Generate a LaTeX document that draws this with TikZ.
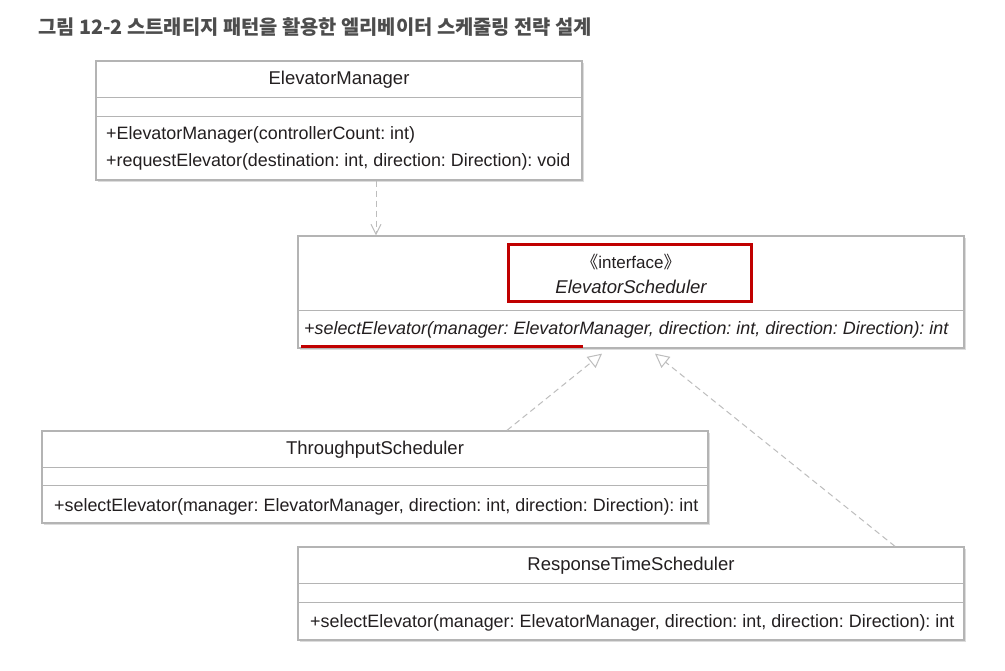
\documentclass[tikz,border=0pt]{standalone}
\usepackage{fontspec}
\setmainfont{Liberation Sans}
\newfontfamily\cjk{Noto Sans CJK KR}
\usetikzlibrary{arrows.meta,shadows,calc}
\definecolor{boxline}{HTML}{B4B4B4}
\definecolor{shadowc}{HTML}{DCDCDC}
\definecolor{redc}{HTML}{C00000}
\definecolor{txt}{HTML}{231F20}
\definecolor{arrowc}{HTML}{BDBDBD}
\definecolor{titlec}{HTML}{4D4D4D}
\frenchspacing
\begin{document}
\begin{tikzpicture}[x=1pt,y=-1pt,
 umlbox/.style={draw=boxline, line width=1.3pt, fill=white, inner sep=0pt,
   drop shadow={shadow xshift=2pt, shadow yshift=-2pt, fill=shadowc, opacity=1}},
 divider/.style={draw=boxline, line width=1pt},
 nametext/.style={font=\fontsize{18.5}{20}\selectfont, text=txt, inner sep=0pt},
 methtext/.style={font=\fontsize{17.9}{20}\selectfont, text=txt, inner sep=0pt, anchor=west},
 dep/.style={draw=arrowc, line width=1pt, dash pattern=on 6pt off 4pt,
   -{Straight Barb[length=10pt,width=10pt,line width=1pt]}},
 real/.style={draw=arrowc, line width=1pt, dash pattern=on 6pt off 4pt,
   -{Triangle[open,length=14pt,width=14pt,line width=1pt,fill=white]}},
 redbox/.style={draw=redc, line width=2.5pt, inner sep=0pt},
 underl/.style={draw=redc, line width=2.5pt},
]
\useasboundingbox (0,0) rectangle (1005,671);
\fill[white] (0,0) rectangle (1005,671);

% title
\node[anchor=west, font=\cjk\bfseries\fontsize{19.8}{22}\selectfont, text=titlec, inner sep=0pt] (title) at (38,27)
  {그림 12-2 스트래티지 패턴을 활용한 엘리베이터 스케줄링 전략 설계};

% ElevatorManager
\node[umlbox, minimum width=486pt, minimum height=119pt] (em) at (339,120.5) {};
\draw[divider] ($(em.north west)+(0,37)$) -- ($(em.north east)+(0,37)$);
\draw[divider] ($(em.north west)+(0,56)$) -- ($(em.north east)+(0,56)$);
\node[nametext] (emname) at (339,80) {ElevatorManager};
\node[methtext] (emm1) at (106,134.5) {+ElevatorManager(controllerCount: int)};
\node[methtext] (emm2) at (106,161.5) {+requestElevator(destination: int, direction: Direction): void};

% ElevatorScheduler interface
\node[umlbox, minimum width=666pt, minimum height=112pt] (iface) at (631,292) {};
\draw[divider] ($(iface.north west)+(0,75)$) -- ($(iface.north east)+(0,75)$);
\node[redbox, minimum width=243pt, minimum height=57pt] (red) at (630,273) {};
\node[nametext, font=\fontsize{17}{20}\selectfont] (stereo) at (631,262) {{\cjk 《}interface{\cjk 》}};
\node[nametext, font=\itshape\fontsize{18.5}{20}\selectfont] (ifname) at (631,287) {ElevatorScheduler};
\node[methtext, font=\itshape\fontsize{17.9}{20}\selectfont] (ifm) at (304,329.5)
  {+selectElevator(manager: ElevatorManager, direction: int, direction: Direction): int};
\draw[underl] ([xshift=4pt,yshift=2pt]iface.south west) -- ([xshift=286pt,yshift=2pt]iface.south west);

% ThroughputScheduler
\node[umlbox, minimum width=666pt, minimum height=92pt] (tp) at (375,477) {};
\draw[divider] ($(tp.north west)+(0,37)$) -- ($(tp.north east)+(0,37)$);
\draw[divider] ($(tp.north west)+(0,55)$) -- ($(tp.north east)+(0,55)$);
\node[nametext] (tpname) at (375,450) {ThroughputScheduler};
\node[methtext] (tpm) at (54,506.5)
  {+selectElevator(manager: ElevatorManager, direction: int, direction: Direction): int};

% ResponseTimeScheduler
\node[umlbox, minimum width=666pt, minimum height=93pt] (rt) at (631,593.5) {};
\draw[divider] ($(rt.north west)+(0,37)$) -- ($(rt.north east)+(0,37)$);
\draw[divider] ($(rt.north west)+(0,56)$) -- ($(rt.north east)+(0,56)$);
\node[nametext] (rtname) at (631,566) {ResponseTimeScheduler};
\node[methtext] (rtm) at (310,622.5)
  {+selectElevator(manager: ElevatorManager, direction: int, direction: Direction): int};

% connectors
\coordinate (r1) at ([xshift=-29pt,yshift=-5pt]iface.south);
\coordinate (r2) at ([xshift=24pt,yshift=-5pt]iface.south);
\draw[dep] ([xshift=37pt]em.south) -- ([xshift=37pt]em.south |- iface.north);
\draw[real] ([xshift=132pt]tp.north) -- (r1);
\draw[real] ([xshift=264pt]rt.north) -- (r2);
\end{tikzpicture}
\end{document}
